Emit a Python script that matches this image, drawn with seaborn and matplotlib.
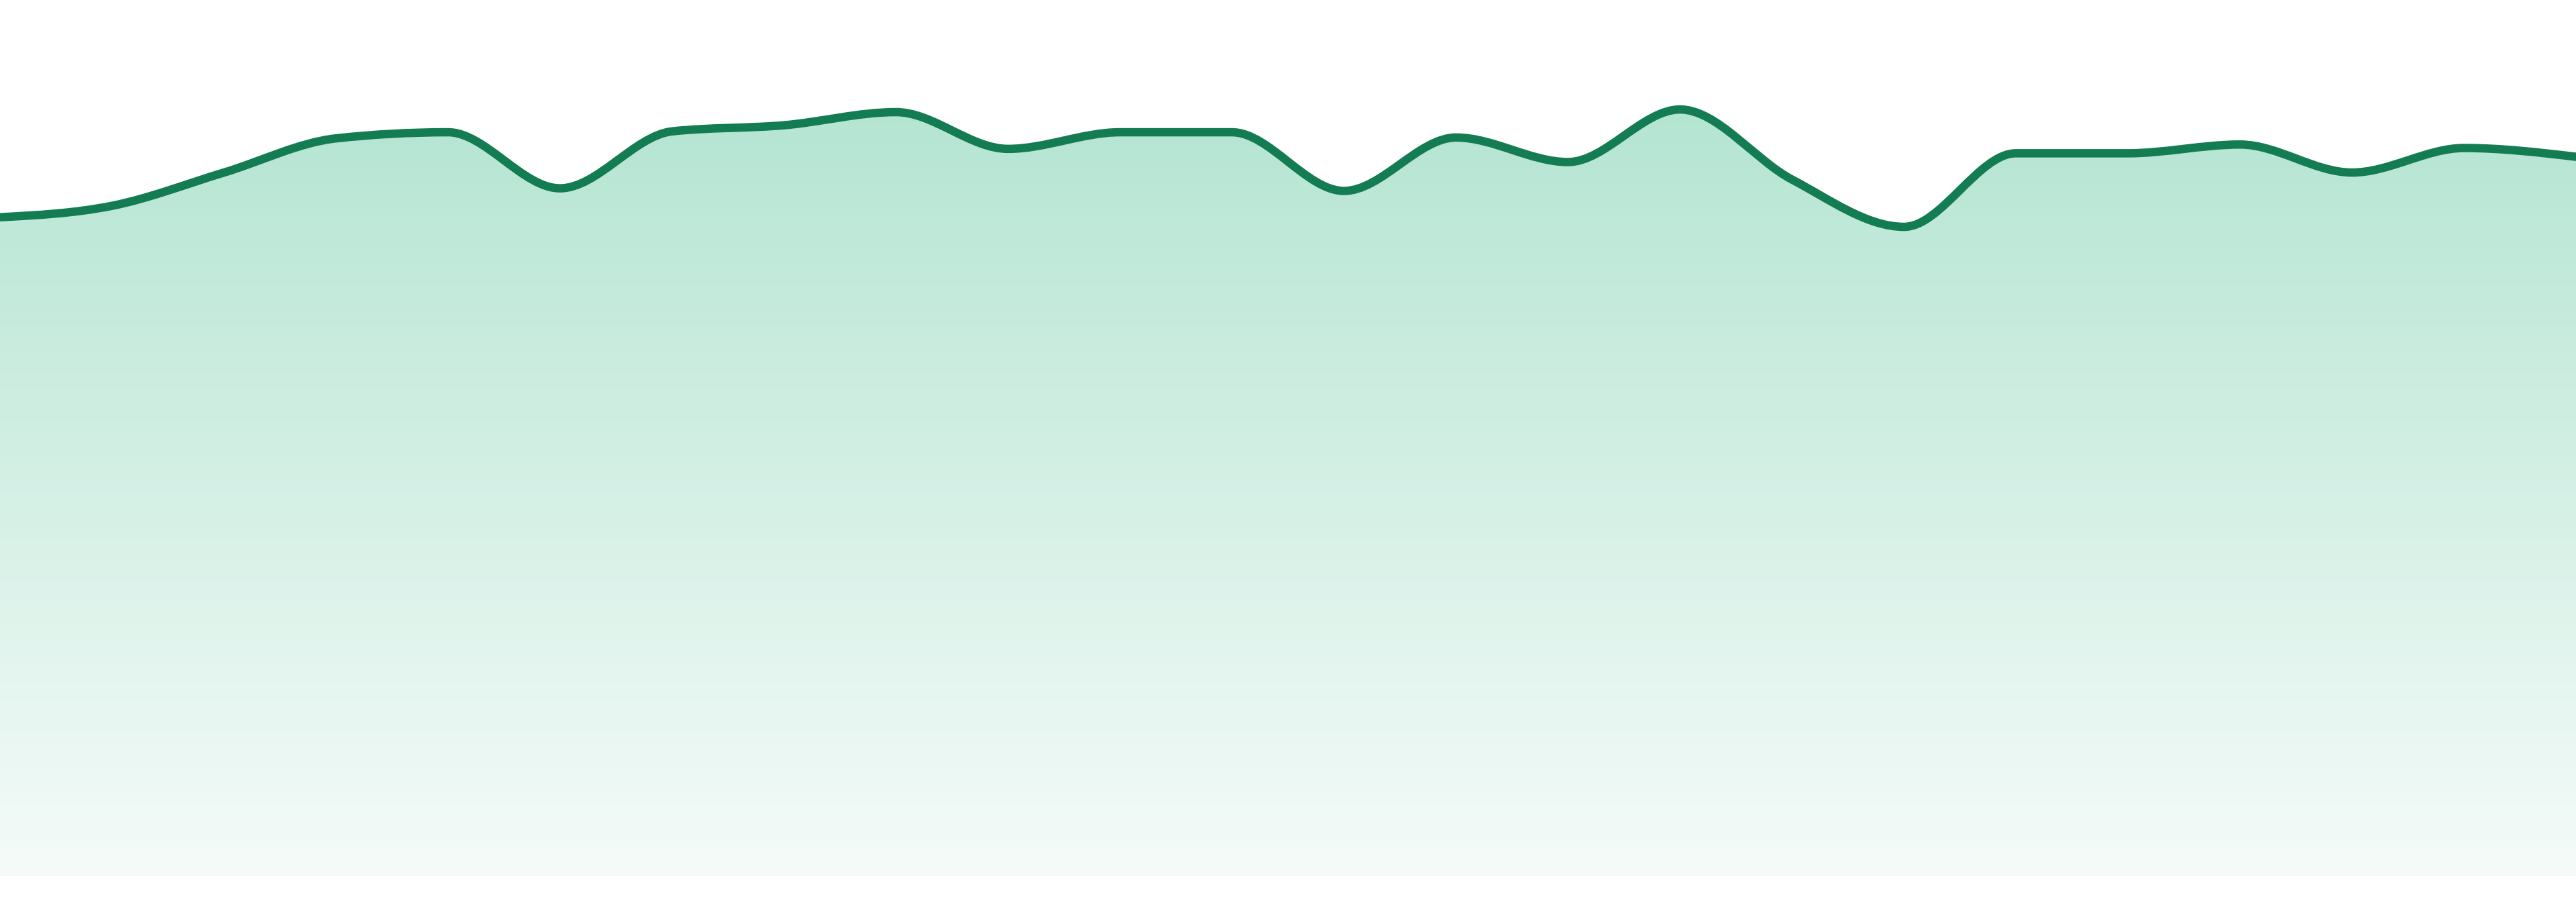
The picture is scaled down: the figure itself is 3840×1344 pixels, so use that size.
import numpy as np
import matplotlib
matplotlib.use("Agg")
import matplotlib.pyplot as plt
from matplotlib.path import Path
from matplotlib.patches import PathPatch
from matplotlib.colors import to_rgb
import seaborn as sns

# Data: 24 evenly spaced periods, values on a 0-100 scale
periods = list(range(24))
values = [75.2, 76.5, 80.3, 84.2, 84.9, 78.5, 85.0, 85.7, 87.2, 83.0, 84.9, 84.9,
          78.2, 84.3, 81.5, 87.5, 79.5, 74.1, 82.5, 82.5, 83.5, 80.3, 83.1, 82.1]

LINE_COLOR = "#137c53"
FILL_TOP = "#b5e5d2"
FILL_BOTTOM = "#f5fbf9"


def monotone_tangents(x, y):
    """Tangents for a monotone cubic curve (same rule as d3 curveMonotoneX)."""
    x = np.asarray(x, dtype=float)
    y = np.asarray(y, dtype=float)
    h = np.diff(x)
    s = np.diff(y) / h
    t = np.zeros_like(y)
    for i in range(1, len(y) - 1):
        p = (s[i - 1] * h[i] + s[i] * h[i - 1]) / (h[i - 1] + h[i])
        t[i] = (np.sign(s[i - 1]) + np.sign(s[i])) * min(abs(s[i - 1]), abs(s[i]), 0.5 * abs(p))
    t[0] = (3 * s[0] - t[1]) / 2
    t[-1] = (3 * s[-1] - t[-2]) / 2
    return t


def curve_path(x, y):
    """Bezier path through the points, drawn by matplotlib."""
    t = monotone_tangents(x, y)
    verts = [(x[0], y[0])]
    codes = [Path.MOVETO]
    for i in range(len(x) - 1):
        dx = (x[i + 1] - x[i]) / 3
        verts += [(x[i] + dx, y[i] + dx * t[i]),
                  (x[i + 1] - dx, y[i + 1] - dx * t[i + 1]),
                  (x[i + 1], y[i + 1])]
        codes += [Path.CURVE4] * 3
    return verts, codes


sns.set_theme(style="white")

W, H = 3840, 1344
fig = plt.figure(figsize=(W / 100, H / 100), dpi=100, facecolor="white")
ax = fig.add_axes([0, 39 / H, 1, 1305 / H])

# invisible pass so seaborn sets up the data scales
sns.lineplot(x=periods, y=values, ax=ax, linewidth=0)

verts, codes = curve_path(periods, values)

# area under the curve
fill_verts = verts + [(periods[-1], 0), (periods[0], 0), (periods[0], values[0])]
fill_codes = codes + [Path.LINETO, Path.LINETO, Path.CLOSEPOLY]
fill_patch = PathPatch(Path(fill_verts, fill_codes), facecolor="none", edgecolor="none")
ax.add_patch(fill_patch)

# vertical gradient clipped to the area
top = np.array(to_rgb(FILL_TOP))
bottom = np.array(to_rgb(FILL_BOTTOM))
frac = np.linspace(0, 1, 256)[:, None]
grad = (bottom + (top - bottom) * frac)[:, None, :]
img = ax.imshow(grad, extent=[periods[0], periods[-1], 0, max(values)],
                origin="lower", aspect="auto", interpolation="bicubic", zorder=1)
img.set_clip_path(fill_patch)

line_patch = PathPatch(Path(verts, codes), facecolor="none", edgecolor=LINE_COLOR,
                       linewidth=9, capstyle="round", joinstyle="round", zorder=3)
ax.add_patch(line_patch)

ax.set_xlim(periods[0], periods[-1])
ax.set_ylim(0, 100)
ax.set_axis_off()

fig.savefig("out.png", dpi=100, facecolor="white")
